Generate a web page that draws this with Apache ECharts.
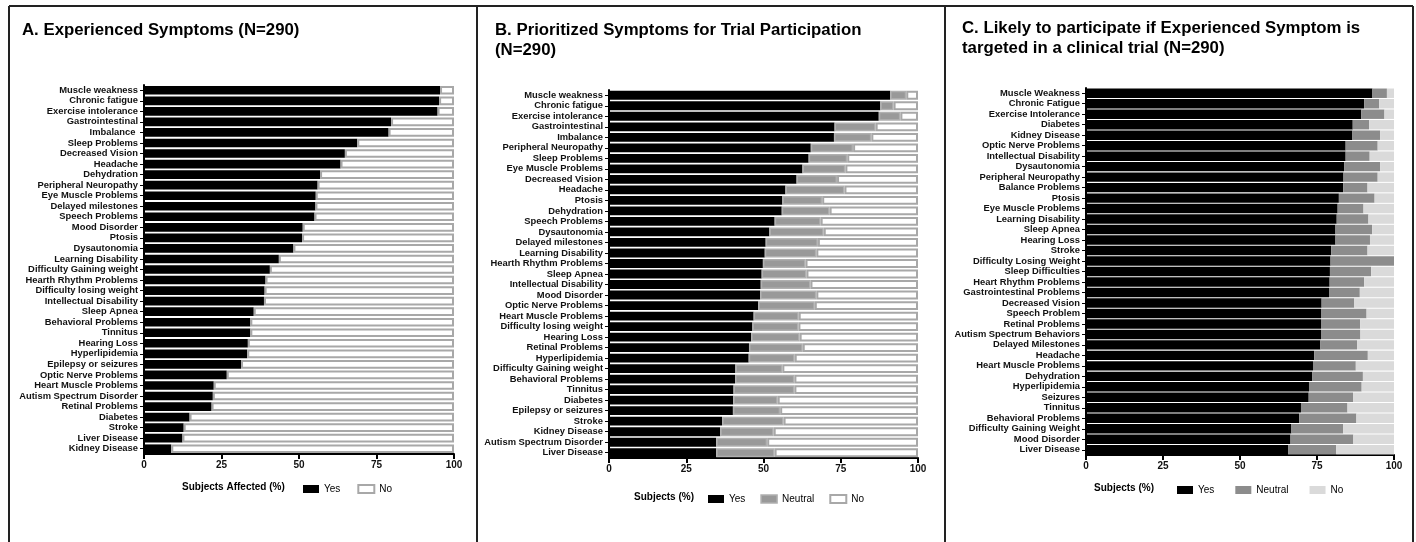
<!DOCTYPE html>
<html>
<head>
<meta charset="utf-8">
<script src="https://cdn.jsdelivr.net/npm/echarts@6/dist/echarts.min.js"></script>
<style>
  html, body { margin: 0; padding: 0; background: #fff; }
  #chart { width: 1416px; height: 542px; }
</style>
</head>
<body>
<div id="chart"></div>
<script>
// A. Experienced symptoms
var catsA = ['Muscle weakness', 'Chronic fatigue', 'Exercise intolerance', 'Gastrointestinal', 'Imbalance ',
  'Sleep Problems', 'Decreased Vision', 'Headache', 'Dehydration', 'Peripheral Neuropathy', 'Eye Muscle Problems',
  'Delayed milestones', 'Speech Problems', 'Mood Disorder', 'Ptosis', 'Dysautonomia', 'Learning Disability',
  'Difficulty Gaining weight', 'Hearth Rhythm Problems', 'Difficulty losing weight', 'Intellectual Disability',
  'Sleep Apnea', 'Behavioral Problems', 'Tinnitus', 'Hearing Loss', 'Hyperlipidemia', 'Epilepsy or seizures',
  'Optic Nerve Problems', 'Heart Muscle Problems', 'Autism Spectrum Disorder', 'Retinal Problems', 'Diabetes',
  'Stroke', 'Liver Disease', 'Kidney Disease']
var yesA = [95.5, 95.2, 94.7, 79.7, 78.9, 68.8, 64.8, 63.4, 56.8, 56.0, 55.4, 55.3, 55.0, 51.2, 51.0, 48.2, 43.5,
  40.6, 39.2, 38.9, 38.7, 35.4, 34.3, 34.3, 33.5, 33.3, 31.3, 26.7, 22.5, 22.2, 21.8, 14.7, 12.8, 12.4, 8.8]
var noA = [4.5, 4.8, 5.3, 20.3, 21.1, 31.2, 35.2, 36.6, 43.2, 44.0, 44.6, 44.7, 45.0, 48.8, 49.0, 51.8, 56.5,
  59.4, 60.8, 61.1, 61.3, 64.6, 65.7, 65.7, 66.5, 66.7, 68.7, 73.3, 77.5, 77.8, 78.2, 85.3, 87.2, 87.6, 91.2]

// B. Prioritized symptoms for trial participation
var catsB = ['Muscle weakness', 'Chronic fatigue', 'Exercise intolerance', 'Gastrointestinal', 'Imbalance',
  'Peripheral Neuropathy', 'Sleep Problems', 'Eye Muscle Problems', 'Decreased Vision', 'Headache', 'Ptosis',
  'Dehydration', 'Speech Problems', 'Dysautonomia', 'Delayed milestones', 'Learning Disability',
  'Hearth Rhythm Problems', 'Sleep Apnea', 'Intellectual Disability', 'Mood Disorder', 'Optic Nerve Problems',
  'Heart Muscle Problems', 'Difficulty losing weight', 'Hearing Loss', 'Retinal Problems', 'Hyperlipidemia',
  'Difficulty Gaining weight', 'Behavioral Problems', 'Tinnitus', 'Diabetes', 'Epilepsy or seizures', 'Stroke',
  'Kidney Disease', 'Autism Spectrum Disorder', 'Liver Disease']
var yesB = [91.0, 87.8, 87.3, 73.0, 72.8, 65.3, 64.6, 62.6, 60.7, 57.1, 56.1, 55.9, 53.6, 51.9, 50.7, 50.4, 49.8,
  49.4, 49.1, 48.9, 48.3, 46.8, 46.4, 46.0, 45.3, 45.2, 40.9, 40.8, 40.3, 40.2, 40.1, 36.6, 36.0, 34.7, 34.7]
var neutralB = [5.2, 4.3, 7.0, 13.3, 12.1, 13.7, 12.5, 13.9, 13.1, 19.1, 12.9, 15.5, 14.9, 17.6, 16.9, 16.7, 13.8,
  14.5, 16.1, 18.2, 18.3, 14.6, 14.9, 15.7, 17.4, 14.9, 15.2, 19.2, 19.7, 14.4, 15.3, 19.9, 17.3, 16.5, 18.9]
var noB = [3.8, 7.9, 5.7, 13.7, 15.1, 21.0, 22.9, 23.5, 26.2, 23.8, 31.0, 28.6, 31.5, 30.5, 32.4, 32.9, 36.4,
  36.1, 34.8, 32.9, 33.4, 38.6, 38.7, 38.3, 37.3, 39.9, 43.9, 40.0, 40.0, 45.4, 44.6, 43.5, 46.7, 48.8, 46.4]

// C. Likely to participate if symptom is targeted
var catsC = ['Muscle Weakness', 'Chronic Fatigue', 'Exercise Intolerance', 'Diabetes', 'Kidney Disease',
  'Optic Nerve Problems', 'Intellectual Disability', 'Dysautonomia', 'Peripheral Neuropathy', 'Balance Problems',
  'Ptosis', 'Eye Muscle Problems', 'Learning Disability', 'Sleep Apnea', 'Hearing Loss', 'Stroke',
  'Difficulty Losing Weight', 'Sleep Difficulties', 'Heart Rhythm Problems', 'Gastrointestinal Problems',
  'Decreased Vision', 'Speech Problem', 'Retinal Problems', 'Autism Spectrum Behaviors', 'Delayed Milestones',
  'Headache', 'Heart Muscle Problems', 'Dehydration', 'Hyperlipidemia', 'Seizures', 'Tinnitus',
  'Behavioral Problems', 'Difficulty Gaining Weight', 'Mood Disorder', 'Liver Disease']
var yesC = [93.0, 90.3, 89.4, 86.6, 86.5, 84.3, 84.3, 83.8, 83.6, 83.5, 82.1, 81.7, 81.4, 81.0, 81.0, 79.6, 79.4,
  79.2, 79.1, 78.9, 76.5, 76.3, 76.3, 76.3, 76.1, 74.1, 73.7, 73.5, 72.4, 72.3, 69.8, 69.2, 66.7, 66.4, 65.6]
var neutralC = [4.7, 4.9, 7.5, 5.3, 9.0, 10.4, 7.8, 11.7, 11.1, 7.9, 11.6, 8.4, 10.3, 11.9, 11.2, 11.8, 20.6,
  13.4, 11.2, 10.0, 10.6, 14.8, 12.7, 12.8, 11.9, 17.4, 13.9, 16.4, 17.1, 14.4, 15.1, 18.6, 16.8, 20.4, 15.6]
var noC = [2.3, 4.8, 3.1, 8.1, 4.5, 5.3, 7.9, 4.5, 5.3, 8.6, 6.3, 9.9, 8.3, 7.1, 7.8, 8.6, 0,
  7.4, 9.7, 11.1, 12.9, 8.9, 11.0, 10.9, 12.0, 8.5, 12.4, 10.1, 10.5, 13.3, 15.1, 12.2, 16.5, 13.2, 18.8]

var ticks = [0, 25, 50, 75, 100]

var FONT = '"Liberation Sans", Arial, sans-serif'
var chart = echarts.init(document.getElementById('chart'))

function xAxisFor(idx) {
  return {
    gridIndex: idx,
    type: 'value',
    min: ticks[0],
    max: ticks[ticks.length - 1],
    interval: ticks[1] - ticks[0],
    splitLine: { show: false },
    axisLine: { show: true, lineStyle: { color: '#000', width: 2 } },
    axisTick: { show: true, length: 5, lineStyle: { color: '#000', width: 2 } },
    axisLabel: { color: '#111', fontSize: 10, fontWeight: 'bold', fontFamily: FONT, margin: 6 }
  }
}

function yAxisFor(idx, cats) {
  return {
    gridIndex: idx,
    type: 'category',
    data: cats,
    inverse: true,
    axisLine: { show: true, lineStyle: { color: '#000', width: 2 } },
    axisTick: { show: true, length: 4, alignWithLabel: true, lineStyle: { color: '#000', width: 1 } },
    axisLabel: { color: '#111', fontSize: 9.4, fontWeight: 'bold', fontFamily: FONT, margin: 6, interval: 0 }
  }
}

function bar(name, idx, data, style, gap) {
  return {
    name: name,
    type: 'bar',
    stack: 'p' + idx,
    xAxisIndex: idx,
    yAxisIndex: idx,
    data: data,
    barCategoryGap: gap,
    itemStyle: style,
    animation: false
  }
}

var blackStyle = { color: '#000', borderWidth: 0 }
var whiteNo = { color: '#fff', borderColor: '#a8a8a8', borderWidth: 2 }
var greyB = { color: '#999', borderColor: '#b0b0b0', borderWidth: 1.5 }
var greyC = { color: '#8c8c8c', borderWidth: 0 }
var lightC = { color: '#dadada', borderWidth: 0 }

var titleStyle = { fontSize: 16.8, fontWeight: 'bold', color: '#000', fontFamily: FONT, lineHeight: 20 }
var axisTitleStyle = { fontSize: 10, fontWeight: 'bold', color: '#000', fontFamily: FONT }

chart.setOption({
  animation: false,
  title: [
    { text: 'A. Experienced Symptoms (N=290)', left: 22, top: 20, padding: 0, textStyle: titleStyle },
    { text: 'B. Prioritized Symptoms for Trial Participation\n(N=290)', left: 495, top: 20, padding: 0, textStyle: titleStyle },
    { text: 'C. Likely to participate if Experienced Symptom is\ntargeted in a clinical trial (N=290)', left: 962, top: 18, padding: 0, textStyle: titleStyle },
    { text: 'Subjects Affected (%)', left: 182, top: 482, padding: 0, textStyle: axisTitleStyle },
    { text: 'Subjects (%)', left: 634, top: 492, padding: 0, textStyle: axisTitleStyle },
    { text: 'Subjects (%)', left: 1094, top: 483, padding: 0, textStyle: axisTitleStyle }
  ],
  legend: [
    {
      left: 303, top: 484, padding: 0, itemWidth: 16, itemHeight: 8, itemGap: 17, icon: 'rect',
      textStyle: { fontSize: 10, color: '#000', fontFamily: FONT },
      data: [{ name: 'Yes', itemStyle: blackStyle }, { name: 'No', itemStyle: whiteNo }]
    },
    {
      left: 708, top: 494, padding: 0, itemWidth: 16, itemHeight: 8, itemGap: 15, icon: 'rect',
      textStyle: { fontSize: 10, color: '#000', fontFamily: FONT },
      data: [{ name: 'Yes', itemStyle: blackStyle }, { name: 'Neutral', itemStyle: greyB }, { name: 'No', itemStyle: whiteNo }]
    },
    {
      left: 1177, top: 485, padding: 0, itemWidth: 16, itemHeight: 8, itemGap: 21, icon: 'rect',
      textStyle: { fontSize: 10, color: '#000', fontFamily: FONT },
      data: [{ name: 'Yes', itemStyle: blackStyle }, { name: 'Neutral', itemStyle: greyC }, { name: 'No', itemStyle: lightC }]
    }
  ],
  grid: [
    { left: 144, width: 310, top: 85, height: 369 },
    { left: 609, width: 309, top: 90, height: 368 },
    { left: 1086, width: 308, top: 88, height: 367 }
  ],
  xAxis: [xAxisFor(0), xAxisFor(1), xAxisFor(2)],
  yAxis: [yAxisFor(0, catsA), yAxisFor(1, catsB), yAxisFor(2, catsC)],
  series: [
    bar('Yes', 0, yesA, blackStyle, '18%'),
    bar('No', 0, noA, whiteNo, '18%'),
    bar('Yes', 1, yesB, blackStyle, '16%'),
    bar('Neutral', 1, neutralB, greyB, '16%'),
    bar('No', 1, noB, whiteNo, '16%'),
    bar('Yes', 2, yesC, blackStyle, '10%'),
    bar('Neutral', 2, neutralC, greyC, '10%'),
    bar('No', 2, noC, lightC, '10%')
  ],
  graphic: [
    { type: 'line', shape: { x1: 9, y1: 6, x2: 1413, y2: 6 }, style: { stroke: '#222', lineWidth: 2 } },
    { type: 'line', shape: { x1: 9, y1: 6, x2: 9, y2: 542 }, style: { stroke: '#222', lineWidth: 2 } },
    { type: 'line', shape: { x1: 477, y1: 6, x2: 477, y2: 542 }, style: { stroke: '#222', lineWidth: 2 } },
    { type: 'line', shape: { x1: 945, y1: 6, x2: 945, y2: 542 }, style: { stroke: '#222', lineWidth: 2 } },
    { type: 'line', shape: { x1: 1413, y1: 6, x2: 1413, y2: 542 }, style: { stroke: '#222', lineWidth: 2 } }
  ]
})
</script>
</body>
</html>
